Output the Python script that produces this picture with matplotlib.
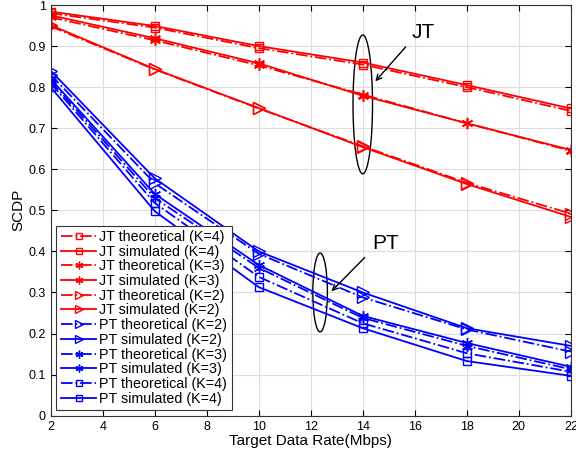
import numpy as np
import matplotlib.pyplot as plt
from matplotlib.patches import Ellipse

plt.rcParams['font.family'] = ['Liberation Sans', 'DejaVu Sans']

rate = [2, 6, 10, 14, 18, 22]

jt_theo_k4 = [0.980, 0.945, 0.895, 0.855, 0.800, 0.742]
jt_sim_k4 = [0.984, 0.949, 0.900, 0.860, 0.805, 0.748]
jt_theo_k3 = [0.970, 0.914, 0.853, 0.782, 0.712, 0.645]
jt_sim_k3 = [0.975, 0.919, 0.858, 0.779, 0.712, 0.647]
jt_theo_k2 = [0.948, 0.843, 0.748, 0.656, 0.567, 0.492]
jt_sim_k2 = [0.951, 0.844, 0.749, 0.654, 0.564, 0.484]

pt_theo_k2 = [0.830, 0.566, 0.394, 0.288, 0.210, 0.156]
pt_sim_k2 = [0.840, 0.578, 0.400, 0.300, 0.213, 0.170]
pt_theo_k3 = [0.815, 0.530, 0.360, 0.238, 0.170, 0.113]
pt_sim_k3 = [0.820, 0.540, 0.367, 0.243, 0.177, 0.119]
pt_theo_k4 = [0.810, 0.518, 0.338, 0.225, 0.152, 0.107]
pt_sim_k4 = [0.800, 0.498, 0.313, 0.213, 0.133, 0.097]

series = [
    ('JT theoretical (K=4)', jt_theo_k4, 'r', '-.', 's'),
    ('JT simulated (K=4)', jt_sim_k4, 'r', '-', 's'),
    ('JT theoretical (K=3)', jt_theo_k3, 'r', '-.', (6, 2, 0)),
    ('JT simulated (K=3)', jt_sim_k3, 'r', '-', (6, 2, 0)),
    ('JT theoretical (K=2)', jt_theo_k2, 'r', '-.', '>'),
    ('JT simulated (K=2)', jt_sim_k2, 'r', '-', '>'),
    ('PT theoretical (K=2)', pt_theo_k2, 'b', '-.', '>'),
    ('PT simulated (K=2)', pt_sim_k2, 'b', '-', '>'),
    ('PT theoretical (K=3)', pt_theo_k3, 'b', '-.', (6, 2, 0)),
    ('PT simulated (K=3)', pt_sim_k3, 'b', '-', (6, 2, 0)),
    ('PT theoretical (K=4)', pt_theo_k4, 'b', '-.', 's'),
    ('PT simulated (K=4)', pt_sim_k4, 'b', '-', 's'),
]

fig = plt.figure(figsize=(5.76, 4.55), dpi=100)
ax = fig.add_axes([0.088, 0.0864, 0.903, 0.9026])

for name, vals, col, ls, mk in series:
    ms = 6 if mk == 's' else 8
    ax.plot(rate, vals, color=col, linestyle=ls, marker=mk, markersize=ms,
            markerfacecolor='none', markeredgewidth=1.0, linewidth=1.3, label=name)

ax.set_xlim(2, 22)
ax.set_ylim(0, 1)
ax.set_xticks(np.arange(2, 23, 2))
ax.set_yticks(np.arange(0, 1.01, 0.1))
ax.set_yticklabels(['0', '0.1', '0.2', '0.3', '0.4', '0.5', '0.6', '0.7', '0.8', '0.9', '1'])
ax.tick_params(direction='in', top=True, right=True, labelsize=9, length=4)
ax.grid(True, color='#dddddd', linewidth=0.8)
ax.set_axisbelow(True)
for s in ax.spines.values():
    s.set_color('#333333')
ax.set_xlabel('Target Data Rate(Mbps)', fontsize=11, labelpad=1)
ax.set_ylabel('SCDP', fontsize=11, labelpad=2)

# annotations
ax.add_patch(Ellipse((14.0, 0.758), 0.75, 0.338, fill=False, color='k', linewidth=1))
ax.annotate('', xy=(14.41, 0.809), xytext=(15.72, 0.903),
            arrowprops=dict(arrowstyle='->', color='k', linewidth=1))
ax.text(16.32, 0.932, 'JT', fontsize=15, ha='center', va='center')

ax.add_patch(Ellipse((12.36, 0.30), 0.56, 0.192, fill=False, color='k', linewidth=1))
ax.annotate('', xy=(12.72, 0.298), xytext=(14.15, 0.39),
            arrowprops=dict(arrowstyle='->', color='k', linewidth=1))
ax.text(14.88, 0.42, 'PT', fontsize=15, ha='center', va='center')

leg = ax.legend(loc='lower left', bbox_to_anchor=(0.0, 0.0), fontsize=10.3,
                labelspacing=0.05, handlelength=2.5, handletextpad=0.2,
                borderpad=0.3, borderaxespad=0.4, markerscale=0.7,
                fancybox=False, framealpha=1)
leg.get_frame().set_edgecolor('#333333')
leg.get_frame().set_linewidth(0.8)

plt.savefig('out.png')
